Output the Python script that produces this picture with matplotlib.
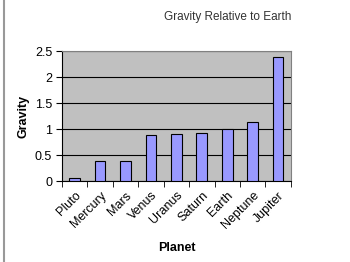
import matplotlib
matplotlib.use("Agg")
import matplotlib.pyplot as plt
import numpy as np

planets = ["Pluto", "Mercury", "Mars", "Venus", "Uranus", "Saturn", "Earth", "Neptune", "Jupiter"]
gravity = [0.06, 0.38, 0.38, 0.88, 0.90, 0.92, 1.00, 1.13, 2.38]
yticks = [0, 0.5, 1, 1.5, 2, 2.5]
ytick_labels = ["0", "0.5", "1", "1.5", "2", "2.5"]

plt.rcParams['font.family'] = ['Liberation Sans', 'DejaVu Sans']

fig = plt.figure(figsize=(3.5, 2.62), dpi=100)
ax = fig.add_axes([0.177, 0.309, 0.654, 0.496])
ax.set_facecolor("#c0c0c0")

x = np.arange(len(planets))
ax.bar(x, gravity, width=0.42, color="#9999ff", edgecolor="black", linewidth=0.8, zorder=3)

ax.set_xlim(-0.5, len(planets) - 0.5)
ax.set_ylim(0, 2.5)
ax.set_yticks(yticks)
ax.set_yticklabels(ytick_labels, fontsize=9)
ax.yaxis.grid(True, color="black", linewidth=0.8, zorder=1)

# category labels, tick marks between categories
ax.set_xticks(x)
ax.set_xticklabels(planets, rotation=45, ha="right", rotation_mode="anchor", fontsize=9)
ax.tick_params(axis="x", length=0, pad=6)
ax.set_xticks(np.arange(-0.5, len(planets)), minor=True)
ax.tick_params(axis="x", which="minor", length=4, direction="out")
ax.tick_params(axis="y", length=4, direction="out", pad=3)

for s in ["top", "right"]:
    ax.spines[s].set_color("#808080")
for s in ["left", "bottom"]:
    ax.spines[s].set_color("black")

ax.set_ylabel("Gravity", fontsize=9, fontweight="bold", labelpad=4)
ax.set_xlabel("Planet", fontsize=9, fontweight="bold", labelpad=8)

fig.text(0.65, 0.935, "Gravity Relative to Earth", fontsize=8.5, ha="center", va="center", color="#333333")

# gray left border of the image
fig.add_artist(plt.Line2D([0.01, 0.01], [0, 1], color="#999999", linewidth=1.5, transform=fig.transFigure))

fig.savefig("out.png", dpi=100)
